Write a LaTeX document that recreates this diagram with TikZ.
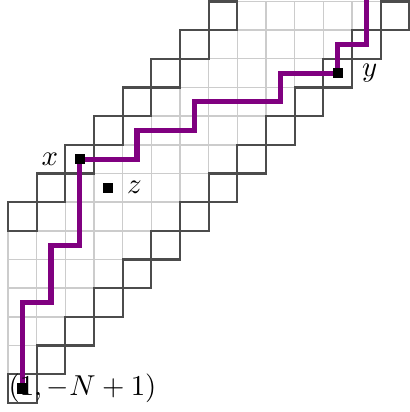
\documentclass[tikz,border=0pt]{standalone}
\usepackage{amsmath}
\usepackage{tikz}
\usetikzlibrary{positioning}
\tikzset{
  cell/.style={draw=black!20, line width=0.5pt},
  rimcell/.style={draw=black!70, line width=0.75pt},
  walk/.style={draw=violet, line width=1.8pt},
  dot/.style={rectangle, fill=black, minimum size=3.5pt, inner sep=0pt},
  lbl/.style={font=\normalsize}
}

\begin{document}
\begin{tikzpicture}[x=0.35cm, y=0.35cm, node distance=2pt]
\useasboundingbox (-0.28,-0.32) rectangle (14,14.05);
% strip of light cells
\foreach \i in {0,...,12} {
  \foreach \j in {1,...,5} {
    \pgfmathtruncatemacro{\r}{\i+\j}
    \ifnum\r<14 \draw[cell] (\i,\r) rectangle ++(1,1); \fi
  }
}
% dark cells on both rims
\foreach \k in {0,...,13} \draw[rimcell] (\k,\k) rectangle ++(1,1);
\foreach \k in {0,...,7} \draw[rimcell] (\k,\k+6) rectangle ++(1,1);
% points
\coordinate (a) at (0.5,0.5);
\coordinate (b) at (2.5,8.5);
\coordinate (c) at (11.5,11.5);
\coordinate (d) at (3.5,7.5);
\coordinate (top) at (12.5,14.05);
\draw[walk] (a) -- ++(0,3) -- ++(1,0) -- ++(0,2) -- ++(1,0) -- (b)
  -- ++(2,0) -- ++(0,1) -- ++(2,0) -- ++(0,1) -- ++(3,0) -- ++(0,1) -- (c)
  -- ++(0,1) -- ++(1,0) -- (top);
\node[dot] (pa) at (a) {};
\node[dot] (px) at (b) {};
\node[dot] (py) at (c) {};
\node[dot] (pz) at (d) {};
\node[lbl, left=of px] (lx) {$x$};
\node[lbl, right=3pt of py] (ly) {$y$};
\node[lbl, right=1pt of pz] (lz) {$z$};
\node[lbl, anchor=west, inner sep=0pt] (la) at (0,0.5) {$(1,-N+1)$};
\end{tikzpicture}
\end{document}
